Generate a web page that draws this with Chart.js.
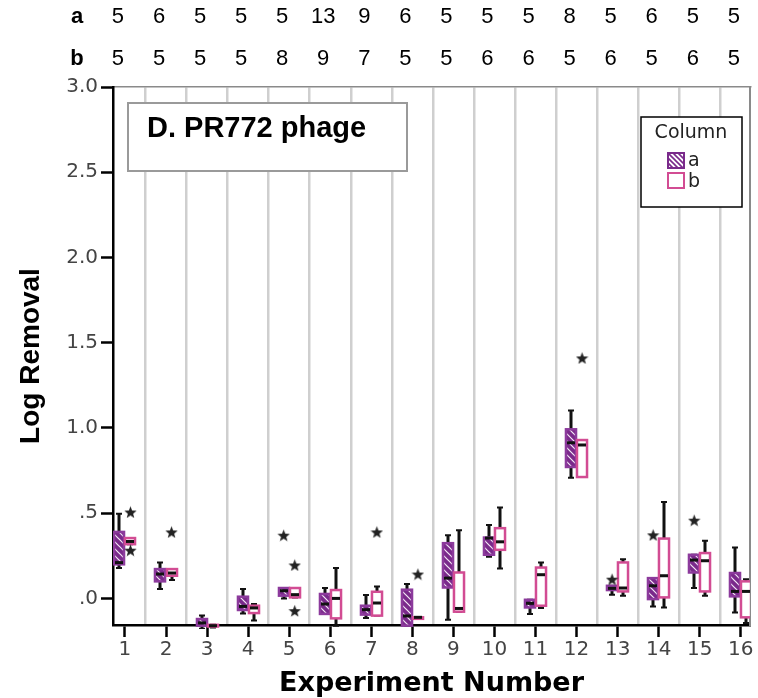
<!DOCTYPE html>
<html>
<head>
<meta charset="utf-8">
<script src="https://cdn.jsdelivr.net/npm/chart.js@4"></script>
<style>
  html, body { margin: 0; padding: 0; background: #fff; }
  canvas { display: block; }
</style>
</head>
<body>
<canvas id="chart" width="758" height="698"></canvas>
<script>
// ── DATA ───────────────────────────────────────────────────────────────────

const experiments = [1, 2, 3, 4, 5, 6, 7, 8, 9, 10, 11, 12, 13, 14, 15, 16];

// sample counts per experiment, printed above the plot
const countA = [5, 6, 5, 5, 5, 13, 9, 6, 5, 5, 5, 8, 5, 6, 5, 5];
const countB = [5, 5, 5, 5, 8, 9, 7, 5, 5, 6, 6, 5, 6, 5, 6, 5];

// column a box statistics (log removal)
const aMin = [0.178, 0.055, -0.178, -0.088, 0.000, -0.091, -0.115, -0.160, -0.125, 0.244, -0.091, 0.708, 0.022, -0.047, 0.061, -0.082];
const aQ1  = [0.200, 0.100, -0.160, -0.068, 0.016, -0.091, -0.095, -0.160, 0.064, 0.256, -0.053, 0.771, 0.049, -0.004, 0.152, 0.012];
const aMed = [0.210, 0.143, -0.144, -0.047, 0.045, -0.033, -0.066, -0.103, 0.119, 0.354, -0.029, 0.913, 0.059, 0.074, 0.225, 0.041];
const aQ3  = [0.390, 0.172, -0.121, 0.010, 0.061, 0.026, -0.043, 0.051, 0.324, 0.357, -0.008, 0.992, 0.074, 0.119, 0.256, 0.149];
const aMax = [0.497, 0.211, -0.101, 0.055, 0.061, 0.061, 0.020, 0.084, 0.371, 0.430, -0.008, 1.103, 0.074, 0.119, 0.256, 0.299];

// column b box statistics (log removal)
const bMin = [0.318, 0.108, -0.170, -0.130, 0.006, -0.160, -0.101, -0.111, -0.078, 0.176, -0.056, 0.712, 0.016, -0.053, 0.016, -0.144];
const bQ1  = [0.318, 0.133, -0.165, -0.086, 0.006, -0.117, -0.101, -0.111, -0.078, 0.285, -0.043, 0.712, 0.041, 0.006, 0.041, -0.111];
const bMed = [0.334, 0.149, -0.160, -0.056, 0.022, 0.000, -0.027, -0.111, -0.059, 0.332, 0.139, 0.900, 0.061, 0.133, 0.221, 0.041];
const bQ3  = [0.354, 0.172, -0.155, -0.043, 0.061, 0.049, 0.039, -0.111, 0.152, 0.412, 0.181, 0.929, 0.211, 0.351, 0.266, 0.100];
const bMax = [0.354, 0.172, -0.155, -0.033, 0.061, 0.178, 0.070, -0.111, 0.400, 0.533, 0.211, 0.929, 0.230, 0.566, 0.338, 0.113];

// extreme values, [experiment, log removal]
const outliersA = [[5, 0.371], [13, 0.113], [14, 0.373], [15, 0.459]];
const outliersB = [[1, 0.507], [1, 0.283], [2, 0.390], [5, 0.196], [5, -0.072], [7, 0.390], [8, 0.143], [12, 1.411]];

const yTicks = [0, 0.5, 1.0, 1.5, 2.0, 2.5, 3.0];

// ── STYLE ──────────────────────────────────────────────────────────────────

const COLORS = {
  purple:       '#7a2a8b',
  purpleBorder: '#8c3a9c',
  pink:         '#d24c93',
  whisker:      '#111',
  star:         '#222',
  divider:      '#cfcfcf',
  frame:        '#8a8a8a',
  tick:         '#444',
};

const BOX_OFFSET = 0.135;   // half gap between a and b boxes, in experiment units
const BOX_WIDTH  = 0.245;

const TICK_FONT = { family: '"DejaVu Sans", sans-serif', size: 20 };

// diagonal hatch used for the column a boxes
function makeHatch(bg, line, step, width) {
  const c = document.createElement('canvas');
  c.width = step; c.height = step;
  const g = c.getContext('2d');
  g.fillStyle = bg;
  g.fillRect(0, 0, step, step);
  g.strokeStyle = line;
  g.lineWidth = width;
  g.beginPath();
  g.moveTo(-1, -1); g.lineTo(step + 1, step + 1);
  g.moveTo(step - 1, -1); g.lineTo(step + 1, 1);
  g.moveTo(-1, step - 1); g.lineTo(1, step + 1);
  g.stroke();
  return c;
}

// filled five point star for extreme values
function makeStar(size, color) {
  const c = document.createElement('canvas');
  c.width = size; c.height = size;
  const g = c.getContext('2d');
  const r = size / 2, ri = r * 0.42;
  g.fillStyle = color;
  g.beginPath();
  for (let k = 0; k < 10; k++) {
    const rad = k % 2 === 0 ? r : ri;
    const ang = -Math.PI / 2 + k * Math.PI / 5;
    const px = r + rad * Math.cos(ang), py = r + rad * Math.sin(ang) + 0.8;
    k === 0 ? g.moveTo(px, py) : g.lineTo(px, py);
  }
  g.closePath();
  g.fill();
  return c;
}

const starImg = makeStar(13, COLORS.star);

// ── PLUGINS ────────────────────────────────────────────────────────────────

const boxPlotPlugin = {
  id: 'boxPlot',
  beforeDatasetsDraw(chart) {
    const { ctx, chartArea: area, scales: { x, y } } = chart;
    const hatch = ctx.createPattern(makeHatch(COLORS.purple, '#f4eaf6', 7, 1.2), 'repeat');
    const half = (x.getPixelForValue(BOX_WIDTH) - x.getPixelForValue(0)) / 2;

    const drawGroup = (mins, q1s, meds, q3s, maxs, dx, fill, stroke) => {
      experiments.forEach((e, i) => {
        const cx = Math.round(x.getPixelForValue(e + dx));
        const yMin = y.getPixelForValue(mins[i]);
        const yQ1  = y.getPixelForValue(q1s[i]);
        const yMed = y.getPixelForValue(meds[i]);
        const yQ3  = y.getPixelForValue(q3s[i]);
        const yMax = y.getPixelForValue(maxs[i]);

        // whiskers
        ctx.strokeStyle = COLORS.whisker;
        ctx.lineWidth = 3;
        ctx.beginPath();
        ctx.moveTo(cx, yQ1); ctx.lineTo(cx, yMin);
        ctx.moveTo(cx, yQ3); ctx.lineTo(cx, yMax);
        ctx.stroke();
        ctx.lineWidth = 2;
        ctx.beginPath();
        ctx.moveTo(cx - 3, yMin); ctx.lineTo(cx + 3, yMin);
        ctx.moveTo(cx - 3, yMax); ctx.lineTo(cx + 3, yMax);
        ctx.stroke();

        // box
        const h = Math.max(yQ1 - yQ3, 1.5);
        ctx.fillStyle = fill;
        ctx.fillRect(cx - half, yQ3, half * 2, h);
        ctx.strokeStyle = stroke;
        ctx.lineWidth = 2.5;
        ctx.strokeRect(cx - half, yQ3, half * 2, h);

        // median
        ctx.strokeStyle = COLORS.whisker;
        ctx.lineWidth = 3;
        ctx.beginPath();
        ctx.moveTo(cx - half + 1, yMed); ctx.lineTo(cx + half - 1, yMed);
        ctx.stroke();
      });
    };

    ctx.save();
    ctx.beginPath();
    ctx.rect(area.left, area.top, area.right - area.left, area.bottom - area.top + 4);
    ctx.clip();
    drawGroup(aMin, aQ1, aMed, aQ3, aMax, -BOX_OFFSET, hatch, COLORS.purpleBorder);
    drawGroup(bMin, bQ1, bMed, bQ3, bMax, BOX_OFFSET, '#fff', COLORS.pink);
    ctx.restore();
  },
};

const annotationsPlugin = {
  id: 'annotations',
  afterDraw(chart) {
    const { ctx, scales: { x } } = chart;
    ctx.save();

    // sample count rows
    ctx.fillStyle = '#000';
    ctx.textAlign = 'center';
    ctx.textBaseline = 'middle';
    ctx.font = 'bold 22px "Liberation Sans Narrow", "Liberation Sans", sans-serif';
    ctx.fillText('a', 77, 17);
    ctx.fillText('b', 77, 59);
    ctx.font = '22px "Liberation Sans Narrow", "Liberation Sans", sans-serif';
    experiments.forEach((e, i) => {
      const px = x.getPixelForValue(e) - 7;
      ctx.fillText(String(countA[i]), px, 17);
      ctx.fillText(String(countB[i]), px, 59);
    });

    // panel title box
    ctx.fillStyle = '#fff';
    ctx.fillRect(128, 103, 279, 68);
    ctx.strokeStyle = '#9a9a9a';
    ctx.lineWidth = 2;
    ctx.strokeRect(128, 103, 279, 68);
    ctx.fillStyle = '#000';
    ctx.textAlign = 'left';
    ctx.font = 'bold 29px "Liberation Sans", Arial, sans-serif';
    ctx.fillText('D. PR772 phage', 147, 129);

    // legend
    ctx.fillStyle = '#fff';
    ctx.fillRect(641, 117, 101, 90);
    ctx.strokeStyle = '#000';
    ctx.lineWidth = 1.5;
    ctx.strokeRect(641, 117, 101, 90);
    ctx.fillStyle = '#222';
    ctx.textAlign = 'center';
    ctx.font = '19px "DejaVu Sans", sans-serif';
    ctx.fillText('Column', 691, 133);

    ctx.fillStyle = ctx.createPattern(makeHatch('#fff', COLORS.purple, 5, 1.6), 'repeat');
    ctx.fillRect(668, 153, 16, 15);
    ctx.strokeStyle = COLORS.purple;
    ctx.lineWidth = 2;
    ctx.strokeRect(668, 153, 16, 15);
    ctx.strokeStyle = COLORS.pink;
    ctx.strokeRect(668, 173, 16, 15);

    ctx.fillStyle = '#222';
    ctx.textAlign = 'left';
    ctx.fillText('a', 688, 161);
    ctx.fillText('b', 688, 182);

    ctx.restore();
  },
};

// ── CHART ──────────────────────────────────────────────────────────────────

const starData = (list, dx) => list.map(([e, v]) => ({ x: e + dx, y: v }));

new Chart(document.getElementById('chart'), {
  type: 'scatter',
  data: {
    datasets: [
      {
        label: 'a',
        data: starData(outliersA, -BOX_OFFSET),
        pointStyle: starImg,
        pointRadius: 7,
      },
      {
        label: 'b',
        data: starData(outliersB, BOX_OFFSET),
        pointStyle: starImg,
        pointRadius: 7,
      },
    ],
  },
  options: {
    responsive: false,
    animation: false,
    events: [],
    layout: { padding: { top: 87, right: 5, left: 0, bottom: 0 } },
    plugins: {
      legend:  { display: false },
      tooltip: { enabled: false },
    },
    scales: {
      x: {
        type: 'linear',
        min: 0.709,
        max: 16.224,
        afterBuildTicks: scale => { scale.ticks = experiments.map(v => ({ value: v })); },
        afterFit: scale => { scale.height = 73; },
        ticks: { color: COLORS.tick, font: TICK_FONT, padding: 1, callback: v => String(v) },
        grid: { drawOnChartArea: false, tickLength: 12, tickWidth: 2.5, tickColor: '#000' },
        border: { color: '#000', width: 2.5 },
        title: {
          display: true,
          text: 'Experiment Number',
          color: '#000',
          font: { family: '"DejaVu Sans", sans-serif', size: 27, weight: 'bold' },
          padding: { top: 0, bottom: -2 },
        },
      },
      // vertical dividers between experiments, plus the top frame line
      xg: {
        type: 'linear',
        position: 'top',
        min: 0.709,
        max: 16.224,
        afterBuildTicks: scale => { scale.ticks = experiments.slice(0, -1).map(v => ({ value: v + 0.5 })); },
        afterFit: scale => { scale.height = 0; },
        ticks: { display: false },
        grid: { color: COLORS.divider, lineWidth: 2.5, drawTicks: false },
        border: { color: COLORS.frame, width: 1.5 },
      },
      y: {
        type: 'linear',
        min: -0.156,
        max: 3.0,
        afterBuildTicks: scale => { scale.ticks = yTicks.map(v => ({ value: v })); },
        afterFit: scale => { scale.width = 113; },
        ticks: {
          color: COLORS.tick,
          font: TICK_FONT,
          padding: 3,
          callback: v => (v === 0 ? '.0' : v === 0.5 ? '.5' : v.toFixed(1)),
        },
        grid: { drawOnChartArea: false, tickLength: 12, tickWidth: 2.5, tickColor: '#000' },
        border: { color: '#000', width: 2.5 },
        title: {
          display: true,
          text: 'Log Removal',
          color: '#000',
          font: { family: '"Liberation Sans Narrow", "Liberation Sans", sans-serif', size: 28, weight: 'bold' },
          padding: { top: 14, bottom: 0 },
        },
      },
      // right frame line
      yr: {
        type: 'linear',
        position: 'right',
        min: -0.156,
        max: 3.0,
        afterFit: scale => { scale.width = 0; },
        ticks: { display: false },
        grid: { display: false },
        border: { color: COLORS.frame, width: 2 },
      },
    },
  },
  plugins: [boxPlotPlugin, annotationsPlugin],
});
</script>
</body>
</html>
